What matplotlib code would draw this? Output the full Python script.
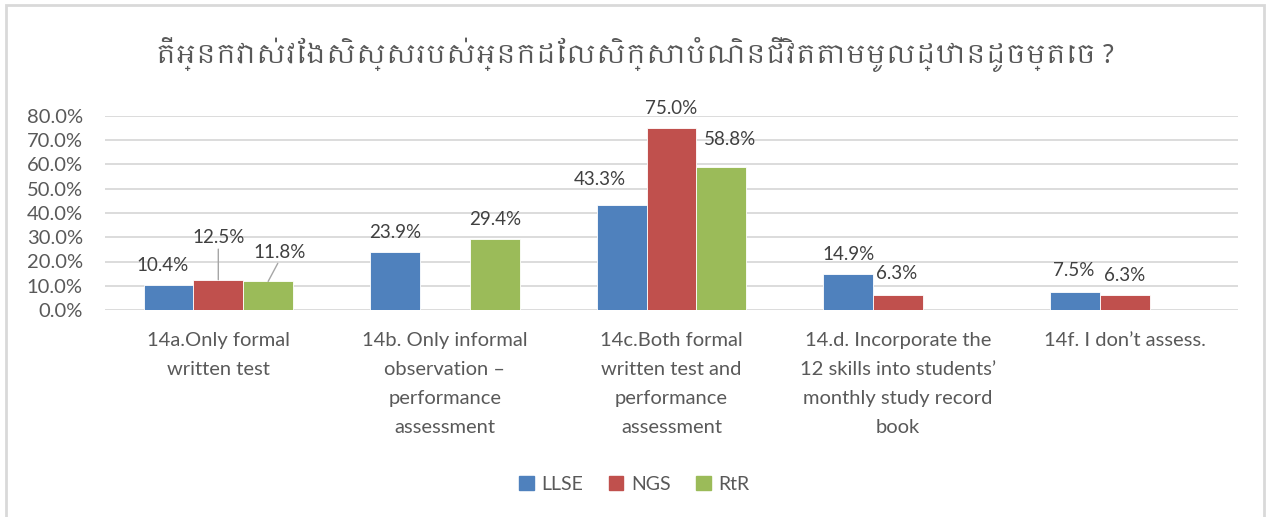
import numpy as np
import matplotlib.pyplot as plt
from matplotlib import font_manager
from matplotlib.patches import Rectangle, Patch

# survey answers, share of respondents per programme
categories = [
    "14a.Only formal\nwritten test",
    "14b. Only informal\nobservation \u2013\nperformance\nassessment",
    "14c.Both formal\nwritten test and\nperformance\nassessment",
    "14.d. Incorporate the\n12 skills into students\u2019\nmonthly study record\nbook",
    "14f. I don\u2019t assess.",
]
series_names = ["LLSE", "NGS", "RtR"]
llse = [10.4, 23.9, 43.3, 14.9, 7.5]
ngs = [12.5, 0.0, 75.0, 6.3, 6.3]
rtr = [11.8, 29.4, 58.8, 0.0, 0.0]
y_ticks = [0, 10, 20, 30, 40, 50, 60, 70, 80]
title = "តើអ្នកវាស់វែងសិស្សរបស់អ្នកដែលសិក្សាបំណិនជីវិតតាមមូលដ្ឋានដូចម្តេច ?"

colors = ["#4f81bd", "#c0504d", "#9bbb59"]
txt = "#595959"

# pick any installed font that covers Khmer for the title
khmer = [f.name for f in font_manager.fontManager.ttflist
         if "khmer" in f.name.lower() or "khmer" in f.fname.lower()]
title_fonts = (khmer[:1] or []) + ["Noto Sans", "DejaVu Sans"]

plt.rcParams["font.family"] = ["Lato", "DejaVu Sans"]

fig = plt.figure(figsize=(12.69, 5.17), dpi=100)
ax = fig.add_axes([105 / 1269, 1 - 310 / 517, 1133 / 1269, 194 / 517])

# light frame around the whole chart
fig.patches.append(Rectangle((6 / 1269, -0.01), 1258 / 1269, 1 - 5 / 517 + 0.01,
                             transform=fig.transFigure, fill=False,
                             edgecolor="#d9d9d9", linewidth=2))

x = np.arange(len(categories))
w = 0.22
data = [llse, ngs, rtr]
for i, (vals, c) in enumerate(zip(data, colors)):
    ax.bar(x + (i - 1) * w, vals, w, color=c, edgecolor="white",
           linewidth=0.6, zorder=3)

ax.set_xlim(-0.5, len(categories) - 0.5)
ax.set_ylim(0, 80)
ax.set_yticks(y_ticks)
ax.set_yticklabels([f"{v:.1f}%" for v in y_ticks], fontsize=14.5, color=txt)
ax.yaxis.grid(True, color="#d9d9d9", linewidth=1.3, zorder=0)
ax.set_xticks(x)
ax.set_xticklabels(categories, fontsize=14.5, color=txt, linespacing=1.85,
                   va="top")
ax.tick_params(axis="both", length=0)
ax.tick_params(axis="x", pad=16)
ax.tick_params(axis="y", pad=16)
for s in ax.spines.values():
    s.set_visible(False)

# value labels; a few are nudged off the bar with a leader line
offsets = {
    (0, 0): (-4, 8), (1, 0): (0, 24, True), (2, 0): (8, 15, True),
    (0, 2): (-16, 12), (2, 2): (6, 14),
    (1, 3): (-1, 9), (0, 4): (-1, 9),
}
for si, vals in enumerate(data):
    for ci, v in enumerate(vals):
        if v == 0:
            continue
        bx = x[ci] + (si - 1) * w
        off = offsets.get((si, ci), (0, 8))
        lead = len(off) > 2 and off[2]
        ax.annotate(f"{v:.1f}%", xy=(bx, v), xytext=(off[0], off[1]),
                    textcoords="offset points", ha="center", va="bottom",
                    fontsize=13.5, color="#404040",
                    arrowprops=dict(arrowstyle="-", color="#a6a6a6", lw=1,
                                    shrinkA=0, shrinkB=0, relpos=(0.5, 0))
                    if lead else None)

fig.text(0.5, 1 - 55 / 517, title, ha="center", va="center", fontsize=19,
         color=txt, family=title_fonts)

handles = [Patch(color=c) for c in colors]
fig.legend(handles, series_names, loc="center", ncol=3,
           bbox_to_anchor=(0.5, 1 - 484 / 517), frameon=False, fontsize=14,
           labelcolor=txt, handlelength=0.75, handleheight=0.75,
           handletextpad=0.4, columnspacing=1.3)

fig.savefig("out.png", dpi=100, facecolor="white")
